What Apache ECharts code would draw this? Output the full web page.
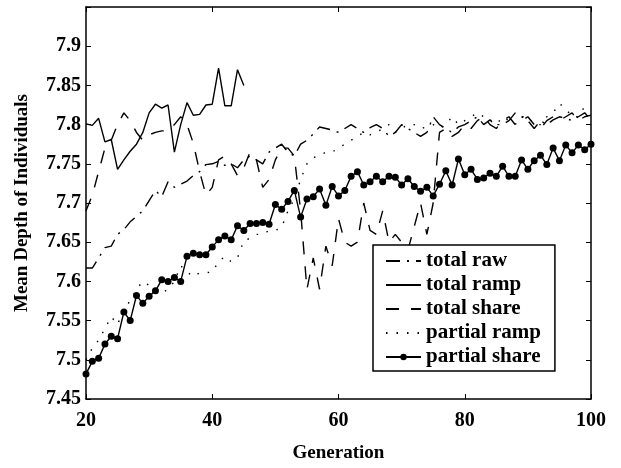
<!DOCTYPE html>
<html>
<head>
<meta charset="utf-8">
<script src="https://cdn.jsdelivr.net/npm/echarts@6/dist/echarts.min.js"></script>
<style>
html,body{margin:0;padding:0;background:#fff;}
#chart{width:621px;height:468px;}
</style>
</head>
<body>
<div id="chart"></div>
<script>
var generations = [20,21,22,23,24,25,26,27,28,29,30,31,32,33,34,35,36,37,38,39,40,41,42,43,44,45,46,47,48,49,50,51,52,53,54,55,56,57,58,59,60,61,62,63,64,65,66,67,68,69,70,71,72,73,74,75,76,77,78,79,80,81,82,83,84,85,86,87,88,89,90,91,92,93,94,95,96,97,98,99,100];

var totalRaw = [7.617,7.617,7.630,7.643,7.645,7.660,7.666,7.676,7.683,7.690,7.703,7.716,7.708,7.727,7.720,7.724,7.728,7.735,7.740,7.749,7.750,7.753,7.748,7.750,7.745,7.755,7.760,7.755,7.750,7.765,7.770,7.775,7.765,7.760,7.775,7.780,7.788,7.797,7.795,7.793,7.790,7.795,7.800,7.795,7.790,7.796,7.800,7.795,7.785,7.790,7.800,7.795,7.790,7.785,7.790,7.810,7.800,7.795,7.790,7.797,7.800,7.805,7.810,7.800,7.806,7.800,7.800,7.805,7.815,7.810,7.805,7.795,7.805,7.800,7.806,7.810,7.808,7.805,7.810,7.815,7.806];

var totalRamp = [7.801,7.799,7.808,7.778,7.781,7.743,7.755,7.766,7.775,7.790,7.815,7.826,7.821,7.825,7.765,7.800,7.828,7.812,7.813,7.825,7.826,7.872,7.824,7.824,7.870,7.850];

var totalShare = [7.690,7.710,7.740,7.770,7.780,7.800,7.815,7.805,7.790,7.780,7.787,7.790,7.792,7.792,7.800,7.810,7.800,7.776,7.740,7.710,7.720,7.755,7.760,7.750,7.735,7.745,7.765,7.755,7.720,7.730,7.755,7.770,7.770,7.760,7.690,7.590,7.630,7.590,7.645,7.620,7.680,7.650,7.645,7.650,7.700,7.665,7.660,7.690,7.650,7.660,7.650,7.640,7.670,7.700,7.660,7.700,7.790,7.795,7.785,7.790,7.800,7.795,7.805,7.810,7.800,7.795,7.805,7.810,7.800,7.805,7.810,7.800,7.795,7.805,7.810,7.805,7.810,7.815,7.805,7.810,7.812];

var partialRamp = [7.500,7.515,7.525,7.540,7.555,7.545,7.565,7.575,7.590,7.600,7.595,7.590,7.585,7.590,7.600,7.620,7.612,7.606,7.611,7.611,7.612,7.625,7.632,7.625,7.630,7.652,7.655,7.660,7.660,7.665,7.665,7.669,7.690,7.705,7.730,7.750,7.758,7.760,7.765,7.765,7.770,7.775,7.780,7.785,7.790,7.787,7.790,7.795,7.800,7.790,7.795,7.800,7.800,7.795,7.797,7.800,7.795,7.800,7.810,7.800,7.805,7.810,7.815,7.810,7.805,7.800,7.810,7.805,7.800,7.810,7.810,7.800,7.800,7.810,7.815,7.827,7.820,7.810,7.810,7.823,7.820];

var partialShare = [7.482,7.498,7.502,7.520,7.530,7.527,7.561,7.550,7.582,7.572,7.581,7.588,7.602,7.600,7.605,7.600,7.632,7.636,7.634,7.634,7.644,7.653,7.658,7.653,7.671,7.665,7.674,7.674,7.675,7.673,7.698,7.692,7.702,7.716,7.682,7.705,7.708,7.718,7.697,7.721,7.709,7.716,7.734,7.740,7.723,7.727,7.734,7.727,7.734,7.733,7.723,7.731,7.721,7.715,7.720,7.709,7.724,7.741,7.723,7.756,7.736,7.743,7.730,7.732,7.738,7.734,7.747,7.734,7.734,7.755,7.743,7.754,7.761,7.749,7.770,7.754,7.774,7.764,7.774,7.768,7.775];

var seriesNames = ['total raw','total ramp','total share','partial ramp','partial share'];
var yTicks = [7.45,7.5,7.55,7.6,7.65,7.7,7.75,7.8,7.85,7.9];

function pairs(vals){
  var out = [];
  for (var i = 0; i < vals.length; i++) out.push([generations[i], vals[i]]);
  return out;
}

var FONT = 'Liberation Serif';
var chart = echarts.init(document.getElementById('chart'), null, {renderer:'canvas'});

var axisLineStyle = {color:'#000', width:1.5};
function lineSeries(name, vals, type, extra){
  var s = {
    name: name, type: 'line', data: pairs(vals),
    symbol: 'none', showSymbol: false, animation: false,
    lineStyle: {color:'#000', width:1.4, type: type},
    itemStyle: {color:'#000'}
  };
  for (var k in extra) s[k] = extra[k];
  return s;
}

var hiddenMark = {opacity: 0, color: 'rgba(0,0,0,0)', borderWidth: 0};
var legendData = [
  {name: seriesNames[0], itemStyle: hiddenMark},
  {name: seriesNames[1], itemStyle: hiddenMark},
  {name: seriesNames[2], itemStyle: hiddenMark},
  {name: seriesNames[3], itemStyle: hiddenMark},
  {name: seriesNames[4]}
];

chart.setOption({
  backgroundColor: '#fff',
  animation: false,
  grid: {left: 86, right: 30, top: 7, bottom: 61, containLabel: false},
  xAxis: [{
    type: 'value', min: 20, max: 100, interval: 20, position: 'bottom',
    name: 'Generation', nameLocation: 'middle', nameGap: 45,
    nameTextStyle: {fontFamily: FONT, fontWeight: 'bold', fontSize: 19, color: '#000'},
    axisLine: {show: true, lineStyle: axisLineStyle},
    axisTick: {show: true, inside: true, length: 5, lineStyle: {color:'#000', width:1}},
    axisLabel: {fontFamily: FONT, fontWeight: 'bold', fontSize: 20, color: '#000', margin: 12},
    splitLine: {show: false}
  },{
    type: 'value', min: 20, max: 100, interval: 20, position: 'top',
    axisLine: {show: true, lineStyle: axisLineStyle},
    axisTick: {show: true, inside: true, length: 5, lineStyle: {color:'#000', width:1}},
    axisLabel: {show: false}, splitLine: {show: false}
  }],
  yAxis: [{
    type: 'value', min: 7.45, max: 7.95, interval: 0.05, position: 'left',
    name: 'Mean Depth of Individuals', nameLocation: 'middle', nameGap: 54,
    nameTextStyle: {fontFamily: FONT, fontWeight: 'bold', fontSize: 19, color: '#000'},
    axisLine: {show: true, lineStyle: axisLineStyle},
    axisTick: {show: true, inside: true, length: 5, lineStyle: {color:'#000', width:1}},
    axisLabel: {fontFamily: FONT, fontWeight: 'bold', fontSize: 20, color: '#000', margin: 5,
      formatter: function(v){
        var r = Math.round(v*100)/100;
        for (var i = 0; i < yTicks.length; i++) if (Math.abs(yTicks[i]-r) < 1e-6) return String(yTicks[i]);
        return '';
      }},
    splitLine: {show: false}
  },{
    type: 'value', min: 7.45, max: 7.95, interval: 0.05, position: 'right',
    axisLine: {show: true, lineStyle: axisLineStyle},
    axisTick: {show: true, inside: true, length: 5, lineStyle: {color:'#000', width:1}},
    axisLabel: {show: false}, splitLine: {show: false}
  }],
  legend: {
    show: true, orient: 'vertical', left: 373, top: 245,
    data: legendData,
    backgroundColor: '#fff', borderColor: '#000', borderWidth: 1.5,
    padding: [4, 14, 2, 12], itemGap: 0, itemWidth: 35, itemHeight: 8,
    textStyle: {fontFamily: FONT, fontWeight: 'bold', fontSize: 21, color: '#000', lineHeight: 24},
    inactiveColor: '#000'
  },
  series: [
    lineSeries(seriesNames[0], totalRaw, [14,7,2,7], {}),
    lineSeries(seriesNames[1], totalRamp, 'solid', {}),
    lineSeries(seriesNames[2], totalShare, [13,12], {}),
    lineSeries(seriesNames[3], partialRamp, [1.5,9], {}),
    lineSeries(seriesNames[4], partialShare, 'solid', {symbol: 'circle', showSymbol: true, symbolSize: 7})
  ]
});
</script>
</body>
</html>
